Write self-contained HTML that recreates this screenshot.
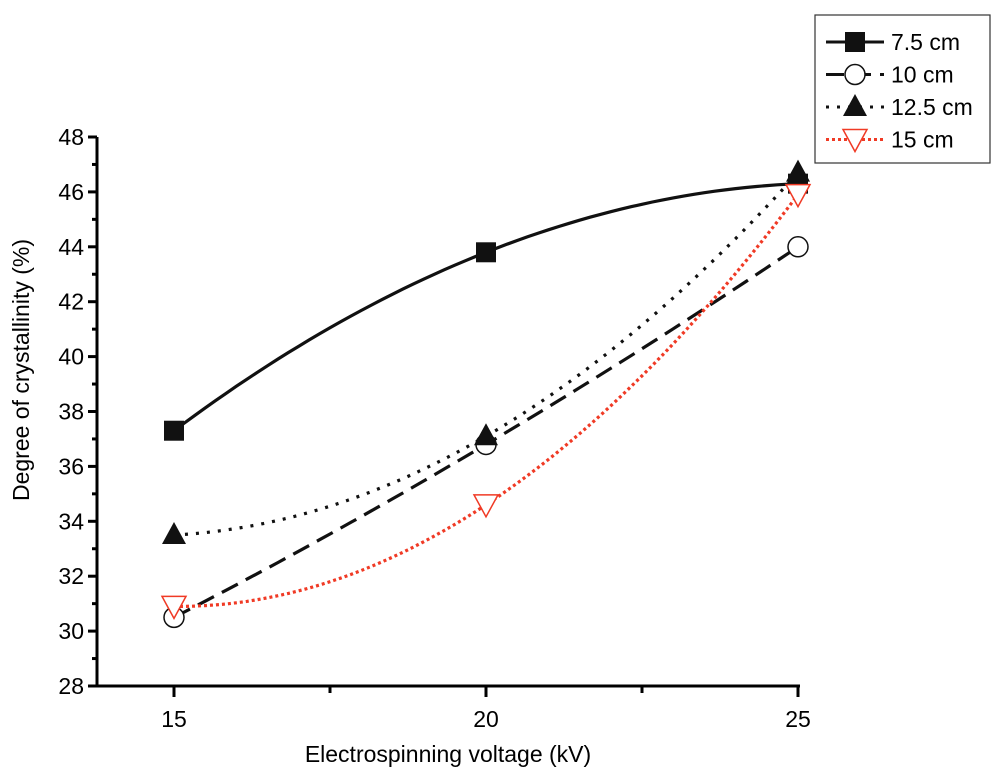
<!DOCTYPE html>
<html><head><meta charset="utf-8"><style>
body{margin:0;background:#fff}
svg{display:block;font-family:"Liberation Sans",Arial,sans-serif}
</style></head><body>
<svg id="c" width="1000" height="783"></svg>
<script>
const categories=[15,20,25];
const s75=[37.3,43.8,46.3];
const s10=[30.5,36.8,44.0];
const s125=[33.5,37.1,46.7];
const s15=[30.9,34.6,45.9];
const yTicks=[28,30,32,34,36,38,40,42,44,46,48];
const xTicks=[15,20,25];
const NS="http://www.w3.org/2000/svg";
const svg=document.getElementById('c');
const X=v=>174+(v-15)*(798-174)/10;
const Y=v=>686-(v-28)*(686-137)/20;
function el(t,a,p){const e=document.createElementNS(NS,t);for(const k in a)e.setAttribute(k,a[k]);(p||svg).appendChild(e);return e;}
const ax=el('path',{d:`M97 137 V686 H800`,stroke:'#000','stroke-width':3,fill:'none'});


yTicks.forEach((v,i)=>{
 el('line',{x1:88,x2:97,y1:Y(v),y2:Y(v),stroke:'#000','stroke-width':3});
 if(i<yTicks.length-1)el('line',{x1:92,x2:97,y1:Y(v+1),y2:Y(v+1),stroke:'#000','stroke-width':3});
 const t=el('text',{x:84,y:Y(v)+8,'text-anchor':'end','font-size':23});t.textContent=v;
 
 
});
xTicks.forEach((v,i)=>{
 el('line',{x1:X(v),x2:X(v),y1:686,y2:697,stroke:'#000','stroke-width':3});
 if(i<xTicks.length-1)el('line',{x1:X(v+2.5),x2:X(v+2.5),y1:686,y2:693,stroke:'#000','stroke-width':3});
 const t=el('text',{x:X(v),y:727,'text-anchor':'middle','font-size':23});t.textContent=v;
 
 
});
const xt=el('text',{x:448,y:762,'text-anchor':'middle','font-size':23});xt.textContent='Electrospinning voltage (kV)';


const yt=el('text',{x:0,y:0,'text-anchor':'middle','font-size':23,transform:'translate(29,370) rotate(-90)'});yt.textContent='Degree of crystallinity (%)';


function curve(vals){
 const [a,b,c]=vals;let d='';
 for(let i=0;i<=60;i++){const t=i/60*10;const u=t/5;
  const v=a*(u-1)*(u-2)/2 - b*u*(u-2) + c*u*(u-1)/2;
  d+=(i?'L':'M')+X(15+t).toFixed(1)+' '+Y(v).toFixed(1);}
 return d;}
function marker(type,x,y,g){
 if(type==='sq')return el('rect',{x:x-10,y:y-10,width:20,height:20,fill:'#111'},g);
 if(type==='ci')return el('circle',{cx:x,cy:y,r:10,fill:'#fff',stroke:'#111','stroke-width':1.5},g);
 if(type==='tu')return el('path',{d:`M${x} ${y-13}L${x+12} ${y+9}L${x-12} ${y+9}Z`,fill:'#111'},g);
 return el('path',{d:`M${x-12} ${y-10}L${x+12} ${y-10}L${x} ${y+12}Z`,fill:'#fff',stroke:'#f03a25','stroke-width':1.5},g);
}
const series=[
 {n:'7.5 cm',v:s75,m:'sq',c:'#111',da:'',name:'series-7-5cm'},
 {n:'10 cm',v:s10,m:'ci',c:'#111',da:'18 9',name:'series-10cm'},
 {n:'12.5 cm',v:s125,m:'tu',c:'#111',da:'3 8',name:'series-12-5cm'},
 {n:'15 cm',v:s15,m:'td',c:'#f03a25',da:'3 3',name:'series-15cm'}];
series.forEach(s=>{
 const g=el('g',{});
 
 
 el('path',{d:curve(s.v),fill:'none',stroke:s.c,'stroke-width':3.2,'stroke-dasharray':s.da},g);
 s.v.forEach((v,i)=>marker(s.m,X(categories[i]),Y(v),g));
});
const lg=el('g',{});


el('rect',{x:815,y:15,width:175,height:148,fill:'#fff',stroke:'#333','stroke-width':1.2},lg);
series.forEach((s,i)=>{
 const y=42+i*32.5;
 const e=el('g',{},lg);
 
 
 el('line',{x1:826,x2:884,y1:y,y2:y,stroke:s.c,'stroke-width':3,'stroke-dasharray':s.da},e);
 marker(s.m,855,y,e);
 const t=el('text',{x:891,y:y+8,'font-size':23},e);t.textContent=s.n;
});
</script>
</body></html>
